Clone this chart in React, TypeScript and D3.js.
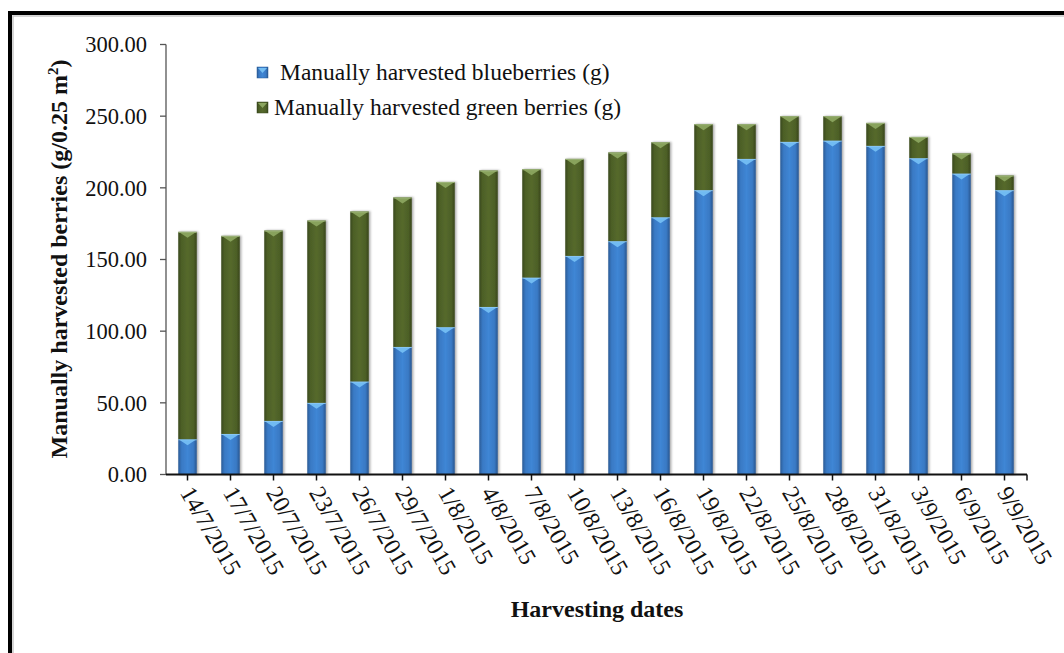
import React from "react";
import * as d3 from "d3";

const dates = ["14/7/2015","17/7/2015","20/7/2015","23/7/2015","26/7/2015","29/7/2015","1/8/2015","4/8/2015","7/8/2015","10/8/2015","13/8/2015","16/8/2015","19/8/2015","22/8/2015","25/8/2015","28/8/2015","31/8/2015","3/9/2015","6/9/2015","9/9/2015"];
const blueberries = [24.6,28.3,37.4,50.0,64.9,89.0,102.8,116.9,137.4,152.5,162.8,179.5,198.4,220.2,232.1,233.0,229.3,220.7,210.0,198.4];
const greenBerries = [144.7,138.2,132.8,127.2,118.6,104.3,101.3,95.2,75.6,67.7,61.9,52.3,46.0,24.2,17.9,17.0,16.0,14.8,14.0,10.2];
const yTicks = [0,50,100,150,200,250,300];
const seriesNames = ["Manually harvested blueberries (g)","Manually harvested green berries (g)"];

const W = 1064, H = 653;
const FONT = "'Liberation Serif', 'Times New Roman', serif";

export default function App() {
  const x = d3.scaleBand<string>().domain(dates).range([166, 1026]).paddingInner(0.57).paddingOuter(0.285);
  const y = d3.scaleLinear().domain([0, 300]).range([474.5, 44.5]);
  const fmt = d3.format(".2f");
  const stack = dates.map((d, i) => ({ d, segs: [
    { key: "blue", y0: 0, y1: blueberries[i] },
    { key: "green", y0: blueberries[i], y1: blueberries[i] + greenBerries[i] },
  ]}));
  const bw = x.bandwidth();
  const tri = { blue: "#74bef3", green: "#8ba55f" } as any;

  return (
    <svg width={W} height={H} style={{ position: "absolute", left: 0, top: 0, background: "#fff" }} fontFamily={FONT}>
      <defs>
        <linearGradient id="gBlue" x1="0" x2="1" y1="0" y2="0">
          <stop offset="0%" stopColor="#2a5b96" />
          <stop offset="18%" stopColor="#3979c4" />
          <stop offset="50%" stopColor="#3f86d5" />
          <stop offset="82%" stopColor="#3979c4" />
          <stop offset="100%" stopColor="#29578f" />
        </linearGradient>
        <linearGradient id="gGreen" x1="0" x2="1" y1="0" y2="0">
          <stop offset="0%" stopColor="#39481c" />
          <stop offset="18%" stopColor="#4d6027" />
          <stop offset="50%" stopColor="#55692c" />
          <stop offset="82%" stopColor="#4d6027" />
          <stop offset="100%" stopColor="#37451b" />
        </linearGradient>
        <filter id="shadow" x="-30%" y="-5%" width="160%" height="110%">
          <feDropShadow dx="1.5" dy="0" stdDeviation="1.2" floodColor="#000" floodOpacity="0.35" />
        </filter>
      </defs>
      <rect x={0} y={0} width={W} height={H} fill="#fff" />
      {/* frame */}
      <rect x={13} y={16} width={1200} height={800} fill="none" stroke="#c8c8c8" strokeWidth={1.5} />
      <rect x={10} y={13} width={1200} height={800} fill="none" stroke="#000" strokeWidth={4} />

      {/* bars */}
      {stack.map((s) => (
        <g key={s.d} filter="url(#shadow)">
          {s.segs.map((g) => {
            const x0 = x(s.d)!;
            const top = y(g.y1), bot = y(g.y0);
            const h = bot - top;
            const th = Math.min(6, h);
            return (
              <g key={g.key}>
                <rect x={x0} y={top} width={bw} height={h} fill={g.key === "blue" ? "url(#gBlue)" : "url(#gGreen)"} />
                <path d={`M${x0 + 1},${top + 0.5} L${x0 + bw - 1},${top + 0.5} L${x0 + bw / 2},${top + th} Z`} fill={tri[g.key]} opacity={0.95} />
                <line x1={x0} x2={x0 + bw} y1={top + 0.5} y2={top + 0.5} stroke={g.key === "blue" ? "#8ccaf7" : "#9db57a"} strokeWidth={1} />
              </g>
            );
          })}
        </g>
      ))}

      {/* y axis */}
      <line x1={166} x2={166} y1={y(300)} y2={y(0)} stroke="#555" strokeWidth={1.3} />
      {yTicks.map((t) => (
        <g key={t}>
          <line x1={160} x2={166} y1={y(t)} y2={y(t)} stroke="#555" strokeWidth={1.3} />
          <text x={147} y={y(t)} dy="0.35em" textAnchor="end" fontSize={22.5} fill="#111">{fmt(t)}</text>
        </g>
      ))}
      {/* x axis */}
      <line x1={166} x2={1027} y1={y(0)} y2={y(0)} stroke="#111" strokeWidth={2} />
      <line x1={1027} x2={1027} y1={y(0)} y2={y(0) + 6} stroke="#111" strokeWidth={1.5} />
      {dates.map((d) => {
        const cx = x(d)! + bw / 2;
        return (
          <g key={d}>
            <line x1={cx} x2={cx} y1={y(0)} y2={y(0) + 6} stroke="#111" strokeWidth={1.5} />
            <text transform={`translate(${cx - 8},${y(0) + 18}) rotate(60)`} fontSize={24} fill="#111">{d}</text>
          </g>
        );
      })}

      {/* axis titles */}
      <text transform={`translate(67,259) rotate(-90)`} textAnchor="middle" fontSize={24} fontWeight="bold" fill="#111">
        Manually harvested berries (g/0.25 m<tspan dy={-9} fontSize={15}>2</tspan><tspan dy={9}>)</tspan>
      </text>
      <text x={597} y={617} textAnchor="middle" fontSize={24} fontWeight="bold" fill="#111">Harvesting dates</text>

      {/* legend */}
      <rect x={257} y={67} width={11} height={11} fill="url(#gBlue)" stroke="#2a5b96" strokeWidth={0.5} />
      <path d="M258,68 L267,68 L262.5,73 Z" fill="#74bef3" />
      <text x={280} y={80} fontSize={23.5} fill="#111">{seriesNames[0]}</text>
      <rect x={257} y={102} width={11} height={11} fill="url(#gGreen)" stroke="#39481c" strokeWidth={0.5} />
      <path d="M258,103 L267,103 L262.5,108 Z" fill="#8ba55f" />
      <text x={274} y={115} fontSize={23.5} fill="#111">{seriesNames[1]}</text>
    </svg>
  );
}
